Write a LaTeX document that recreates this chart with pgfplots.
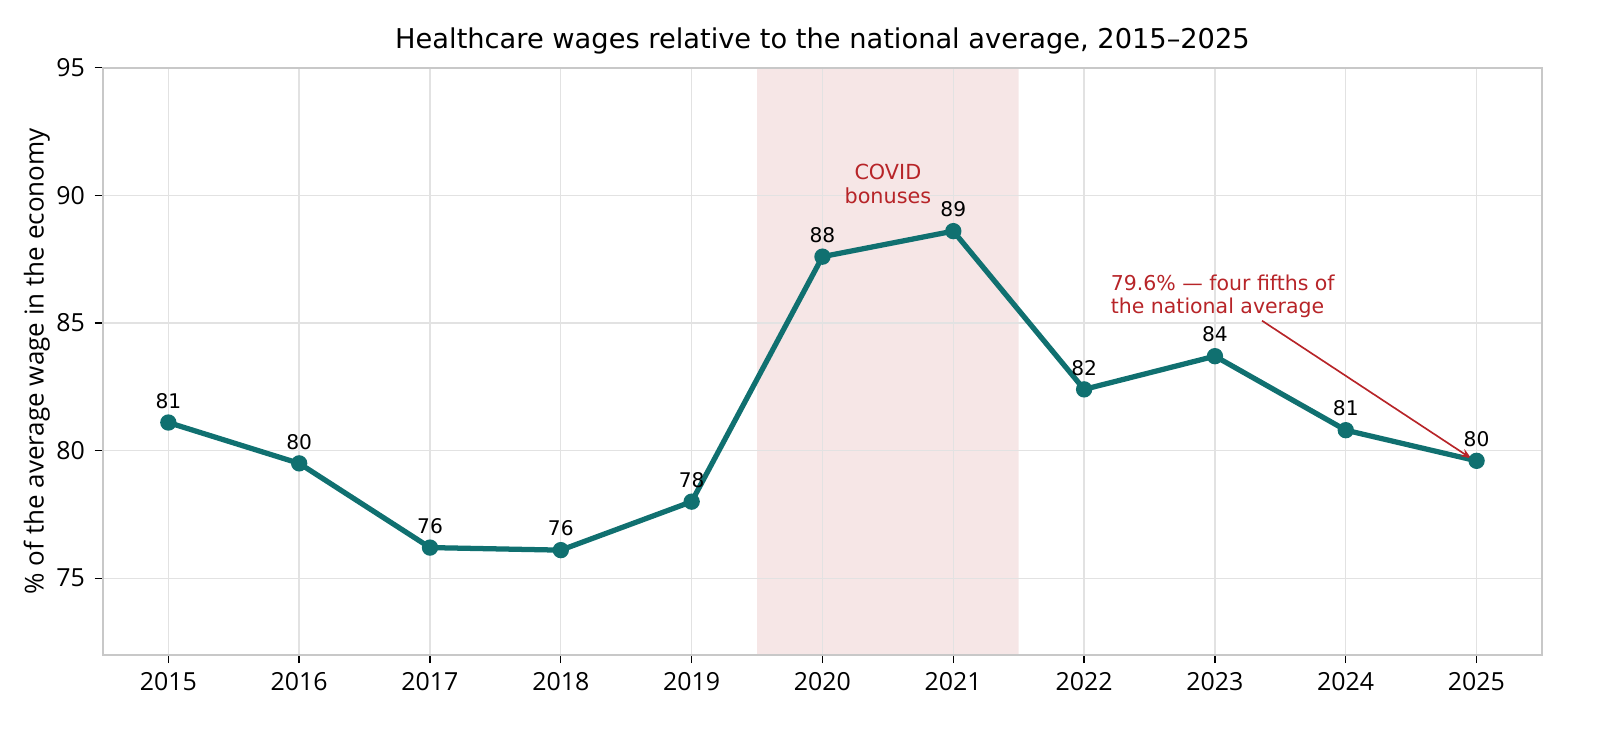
\documentclass[border=0pt]{standalone}
\usepackage{pgfplots}
\pgfplotsset{compat=1.18}
\usepackage{fontspec}
\setmainfont{Open Sans}
\newfontfamily\dejavu{DejaVu Sans}
\usetikzlibrary{arrows.meta}
\definecolor{teal1}{RGB}{16,112,112}
\definecolor{anno}{RGB}{183,36,40}
\definecolor{shade}{RGB}{246,230,230}
\definecolor{gridc}{RGB}{226,226,226}
\definecolor{framec}{RGB}{200,200,200}
\pgfplotstableread{
year val lab
2015 81.1 81
2016 79.5 80
2017 76.2 76
2018 76.1 76
2019 78.0 78
2020 87.6 88
2021 88.6 89
2022 82.4 82
2023 83.7 84
2024 80.8 81
2025 79.6 80
}\wages
\begin{document}
\begin{tikzpicture}
\begin{axis}[
  name=ax,
  scale only axis,
  width=520pt, height=212.1pt,
  xmin=2014.5, xmax=2025.5,
  ymin=72, ymax=95,
  xtick={2015,...,2025},
  ytick={75,80,85,90,95},
  yticklabel style={/pgf/number format/assume math mode=true},
  xticklabel={\pgfmathprintnumber[1000 sep={},assume math mode=true]{\tick}},
  tick label style={font=\fontsize{9}{11}\selectfont},
  tick align=outside,
  tick pos=left,
  major tick length=3pt,
  tick style={black, line width=0.5pt},
  grid=major,
  major grid style={gridc, line width=0.5pt},
  axis line style={framec, line width=0.6pt},
  ylabel={\% of the average wage in the economy},
  ylabel style={font=\fontsize{9.4}{11}\selectfont, yshift=-4.5pt},
  title={\dejavu Healthcare wages relative to the national average, 2015–2025},
  title style={font=\fontsize{9.85}{12}\selectfont, yshift=-4.5pt},
  clip=false,
  set layers,
]
\addplot[draw=none, fill=shade, on layer=axis background] coordinates {(2019.5,72) (2021.5,72) (2021.5,95) (2019.5,95) (2019.5,72)};
\addplot[teal1, line width=1.9pt, mark=*, mark size=2.7pt, mark options={fill=teal1, draw=teal1, line width=0.5pt},
  nodes near coords={\pgfplotspointmeta},
  point meta=explicit symbolic,
  every node near coord/.style={font=\dejavu\fontsize{7.3}{9}\selectfont, black, anchor=south, yshift=1.5pt},
] table[x=year, y=val, meta=lab] {\wages};
\node[font=\dejavu\fontsize{7.5}{8.7}\selectfont, text=anno, align=center] at (axis cs:2020.5,90.45) {COVID\\bonuses};
\node[font=\dejavu\fontsize{7.4}{8.2}\selectfont, text=anno, align=left, anchor=north west, inner sep=0pt] at (axis cs:2022.2,86.9) {79.6\% — four fifths of\\the national average};
\draw[anno, line width=0.6pt, -{Stealth[length=4pt,width=3pt]}] (axis cs:2023.36,85.09) -- (axis cs:2024.96,79.69);
\end{axis}
\pgfresetboundingbox
\path[use as bounding box] (ax.south west) ++(-37.2pt,-29.0pt) rectangle ([xshift=540.96pt,yshift=236.6pt]ax.south west);
\end{tikzpicture}
\end{document}
